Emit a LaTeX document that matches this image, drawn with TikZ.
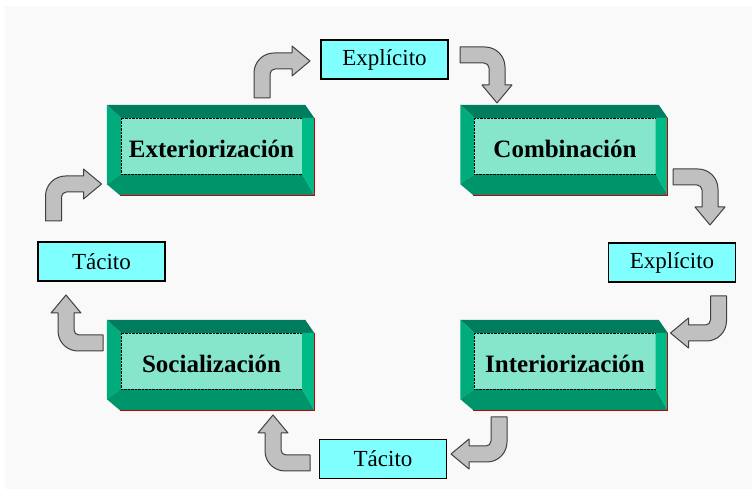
\documentclass[tikz,border=0pt]{standalone}
\usepackage{fontspec}
\setmainfont{Liberation Serif}
\usepackage{xcolor}
\usetikzlibrary{calc}

\definecolor{facegreen}{RGB}{134,230,204}
\definecolor{topgreen}{RGB}{0,125,95}
\definecolor{sidegreen}{RGB}{0,172,124}
\definecolor{bottomgreen}{RGB}{0,148,106}
\definecolor{rightgreen}{RGB}{0,186,136}
\definecolor{labelcyan}{RGB}{128,255,255}
\definecolor{arrowgray}{RGB}{192,192,192}
\definecolor{paper}{RGB}{249,249,249}

\tikzset{
  stage/.style={fill=facegreen, minimum width=181, minimum height=56, inner sep=0pt,
    text height=24pt, text depth=0pt, font=\fontsize{25}{28}\selectfont\bfseries},
  state/.style={fill=labelcyan, draw=black, line width=1.2pt, minimum width=127,
    minimum height=39, inner sep=0pt, font=\fontsize{23}{27}\selectfont},
  bentarrow/.pic={
    \draw[fill=arrowgray, draw=black!75, line width=1pt, line join=round]
      (-8,0) -- (-8,25) arc (180:90:20) -- (30,45) -- (30,52) -- (48,37)
      -- (30,22) -- (30,29) -- (13,29) arc (90:180:5) -- (8,0) -- cycle;
  }
}

\begin{document}
\begin{tikzpicture}[x=1pt, y=1pt]
    \useasboundingbox (0,0) rectangle (752,489);
    \fill[paper] (5,0) rectangle (752,483);

    % the four stages
    \node[stage] (ext) at (211.5,343) {Exteriorización};
    \node[stage] (comb) at (565,343) {Combinación};
    \node[stage] (soc) at (211.5,128) {Socialización};
    \node[stage] (int) at (565,128) {Interiorización};

    % bevelled edges round each stage
    \foreach \stg in {ext,comb,soc,int}{
      \fill[topgreen] ($(\stg.north west)+(-14,13)$) -- ($(\stg.north east)+(3,13)$)
        -- ($(\stg.north east)+(12,0)$) -- (\stg.north west) -- cycle;
      \fill[sidegreen] ($(\stg.north west)+(-14,13)$) -- (\stg.north west)
        -- (\stg.south west) -- ($(\stg.south west)+(-14,-10)$) -- cycle;
      \fill[bottomgreen] ($(\stg.south west)+(-14,-10)$) -- (\stg.south west)
        -- (\stg.south east) -- ($(\stg.south east)+(12,-21)$)
        -- ($(\stg.south west)+(-1,-21)$) -- cycle;
      \fill[rightgreen] (\stg.north east) -- ($(\stg.north east)+(12,0)$)
        -- ($(\stg.south east)+(12,-21)$) -- (\stg.south east) -- cycle;
      \draw[densely dotted] (\stg.south west) -- (\stg.north west) -- (\stg.north east);
      \draw[densely dotted] (\stg.south west) -- (\stg.south east);
      \draw[red!80!black, line width=0.6pt] ($(\stg.south west)+(-1,-21)$)
        -- ($(\stg.south east)+(12,-21)$) -- ($(\stg.north east)+(12,0)$);
    }

    % kinds of knowledge
    \node[state] (expT) at (384.5,429.5) {Explícito};
    \node[state] (expR) at (672,226.5) {Explícito};
    \node[state] (tacL) at (101.5,227.5) {Tácito};
    \node[state] (tacB) at (383,30) {Tácito};

    % bent arrows, clockwise from the bottom left
    \pic[rotate=90] at (103,146) {bentarrow};
    \pic at (53.5,268) {bentarrow};
    \pic at (262,391) {bentarrow};
    \pic[rotate=-90] at (460,434) {bentarrow};
    \pic[rotate=-90] at (673,312) {bentarrow};
    \pic[rotate=180] at (718.5,193) {bentarrow};
    \pic[rotate=180] at (499,72) {bentarrow};
    \pic[rotate=90] at (310,26) {bentarrow};
  \end{tikzpicture}
\end{document}
